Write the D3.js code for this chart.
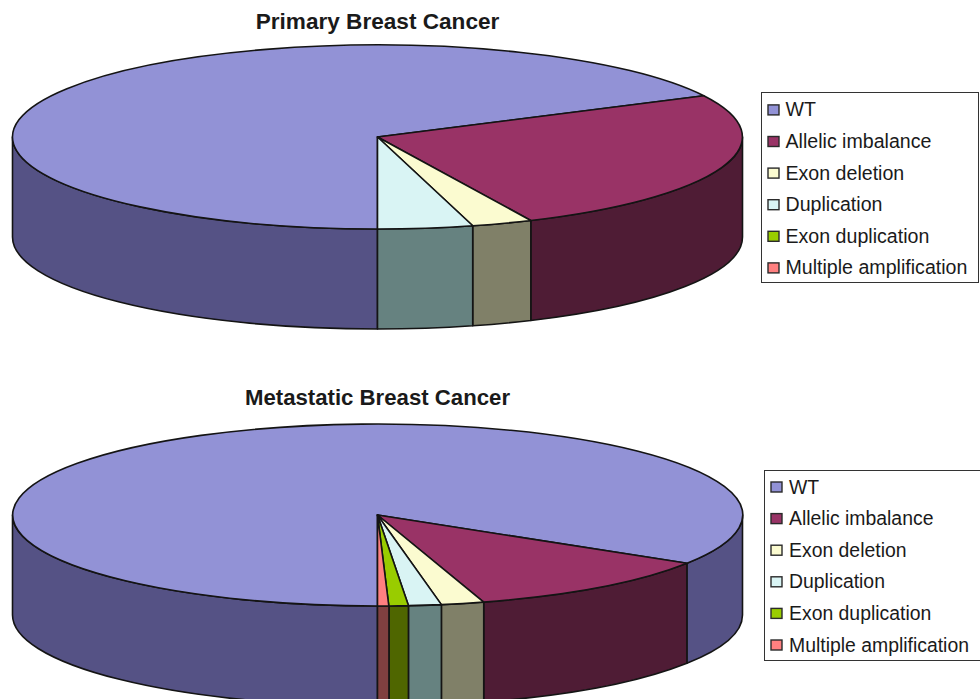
<!DOCTYPE html>
<html>
<head>
<meta charset="utf-8">
<title>Breast cancer pies</title>
<script src="https://cdn.jsdelivr.net/npm/d3@7"></script>
<style>
html, body { margin: 0; padding: 0; background: #fff; overflow: hidden; }
svg { display: block; }
text { font-family: "Liberation Sans", Arial, sans-serif; fill: #1a1a1a; }
</style>
</head>
<body>
<svg id="chart" width="980" height="699"></svg>
<script>
// Mutation classes shared by both cohorts
const categories = ["WT", "Allelic imbalance", "Exon deletion", "Duplication", "Exon duplication", "Multiple amplification"];
const primaryValues = [67.6, 25.5, 2.7, 4.2, 0, 0];
const metastaticValues = [83.9, 11.4, 1.9, 1.45, 0.85, 0.5];
const topColors = ["#9292d6", "#993366", "#fbfbd0", "#d9f4f4", "#99cc00", "#ff8080"];
const wallColors = ["#555285", "#4f1c35", "#808068", "#668280", "#4f6600", "#804040"];

const svg = d3.select("#chart");
const INK = "#141414";

// Clockwise from six o'clock, keeping category order
const pie = d3.pie().sort(null).startAngle(Math.PI).endAngle(3 * Math.PI);
const unitArc = d3.arc().innerRadius(0).outerRadius(1);

function drawDisc(cfg) {
  const { title, titleY, titleSize, values, cx, cy, rx, ry, depth, legend } = cfg;
  const g = svg.append("g");
  const px = a => cx + rx * Math.sin(a);
  const py = a => cy - ry * Math.cos(a);
  const slices = pie(values).map((d, i) => ({ ...d, i })).filter(d => d.value > 0);

  // Side wall pieces: only the part of each slice on the near half of the rim
  const walls = [];
  slices.forEach(s => {
    [[Math.PI / 2, 3 * Math.PI / 2], [5 * Math.PI / 2, 7 * Math.PI / 2]].forEach(([lo, hi]) => {
      const a0 = Math.max(s.startAngle, lo), a1 = Math.min(s.endAngle, hi);
      if (a1 > a0) walls.push({ a0, a1, i: s.i });
    });
  });
  g.selectAll("path.wall").data(walls).join("path")
    .attr("class", "wall")
    .attr("d", w => `M${px(w.a0)},${py(w.a0)}A${rx},${ry} 0 0 1 ${px(w.a1)},${py(w.a1)}` +
      `L${px(w.a1)},${py(w.a1) + depth}A${rx},${ry} 0 0 0 ${px(w.a0)},${py(w.a0) + depth}Z`)
    .attr("fill", w => wallColors[w.i])
    .attr("stroke", INK).attr("stroke-width", 1.6).attr("stroke-linejoin", "round");

  // Top face: unit-circle arcs squashed into an ellipse
  g.selectAll("path.top").data(slices).join("path")
    .attr("class", "top")
    .attr("transform", `translate(${cx},${cy}) scale(${rx},${ry})`)
    .attr("d", unitArc)
    .attr("fill", d => topColors[d.i])
    .attr("stroke", INK).attr("stroke-width", 1.6).attr("stroke-linejoin", "round")
    .attr("vector-effect", "non-scaling-stroke");

  svg.append("text")
    .attr("x", cx).attr("y", titleY).attr("text-anchor", "middle")
    .attr("font-size", titleSize).attr("font-weight", "bold").text(title);

  // Legend box
  const rowY = d3.scalePoint().domain(categories)
    .range([legend.y + legend.firstRow, legend.y + legend.firstRow + 158]);
  const lg = svg.append("g");
  lg.append("rect")
    .attr("x", legend.x + 0.5).attr("y", legend.y + 0.5)
    .attr("width", legend.w).attr("height", legend.h)
    .attr("fill", "#fff").attr("stroke", "#333").attr("stroke-width", 1);
  const row = lg.selectAll("g").data(categories).join("g")
    .attr("transform", c => `translate(${legend.x},${rowY(c)})`);
  row.append("rect")
    .attr("x", 7).attr("y", -4.5).attr("width", 11).attr("height", 10)
    .attr("fill", (c, i) => topColors[i]).attr("stroke", "#2a2a2a").attr("stroke-width", 1.4);
  row.append("text")
    .attr("x", legend.textX).attr("y", 7).attr("font-size", legend.fontSize).text(c => c);
}

drawDisc({
  title: "Primary Breast Cancer", titleY: 29, titleSize: 22.6, values: primaryValues,
  cx: 377.5, cy: 137, rx: 365, ry: 92, depth: 100,
  legend: { x: 761, y: 92, w: 217, h: 190, textX: 24.5, fontSize: 19.6, firstRow: 17.4 }
});
drawDisc({
  title: "Metastatic Breast Cancer", titleY: 405, titleSize: 22.2, values: metastaticValues,
  cx: 377.5, cy: 515, rx: 365, ry: 91, depth: 100,
  legend: { x: 764, y: 470, w: 216, h: 190, textX: 25, fontSize: 19.4, firstRow: 16.5 }
});
</script>
</body>
</html>
